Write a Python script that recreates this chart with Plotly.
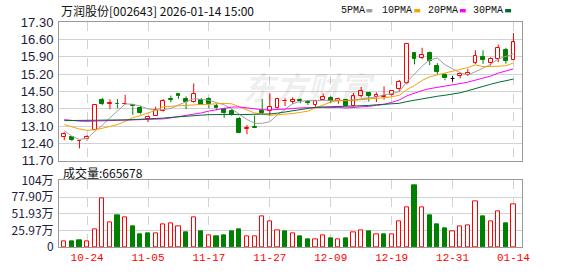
import plotly.graph_objects as go

# ---------------- data ----------------
dates = ["10-21","10-22","10-23","10-24","10-27","10-28","10-29","10-30","10-31",
         "11-03","11-04","11-05","11-06","11-07","11-10","11-11","11-12","11-13","11-14",
         "11-17","11-18","11-19","11-20","11-21","11-24","11-25","11-26","11-27","11-28",
         "12-01","12-02","12-03","12-04","12-05","12-08","12-09","12-10","12-11","12-12",
         "12-15","12-16","12-17","12-18","12-19","12-22","12-23","12-24","12-25","12-26",
         "12-29","12-30","12-31","01-05","01-06","01-07","01-08","01-09","01-12","01-13","01-14"]

open_ = [12.67,12.64,12.49,12.56,12.95,14.14,13.99,14.01,13.98,13.97,
         13.82,13.39,13.52,13.69,14.18,14.39,14.20,14.06,14.17,14.19,
         13.92,13.78,13.72,13.38,12.98,13.07,13.72,13.72,13.82,14.10,
         14.08,14.14,14.06,13.97,14.16,14.22,14.13,14.17,13.90,14.33,
         14.43,14.26,14.29,14.34,14.59,14.84,16.03,15.86,16.03,15.53,
         15.18,15.02,15.13,15.18,15.66,15.90,15.63,15.81,16.17,15.78]
high = [12.85,12.67,12.52,12.73,13.96,14.24,14.18,14.19,14.36,13.99,
        13.92,13.52,13.88,14.19,14.33,14.43,14.30,14.82,14.23,14.26,
        14.00,13.84,13.78,13.46,13.14,13.52,14.19,14.42,14.24,14.22,
        14.26,14.21,14.15,14.16,14.42,14.31,14.24,14.20,14.44,14.68,
        14.44,14.46,14.70,14.56,14.96,16.45,16.04,16.26,16.11,15.64,
        15.23,15.13,15.22,15.41,16.16,16.16,15.88,16.39,16.26,16.85]
low = [12.53,12.49,12.20,12.51,12.93,13.95,13.78,13.81,13.97,13.55,
       13.57,13.26,13.50,13.66,14.06,14.20,13.78,14.04,13.96,13.82,
       13.74,13.43,13.52,12.80,12.77,13.02,13.59,13.52,13.80,13.91,
       13.99,14.02,13.95,13.88,14.12,14.02,14.00,13.86,13.88,14.26,
       14.09,14.07,14.17,14.30,14.48,14.78,15.59,15.80,15.56,15.19,
       14.95,14.89,15.02,15.12,15.60,15.61,15.54,15.68,15.62,15.76]
close = [12.77,12.53,12.51,12.67,13.95,14.01,14.02,13.98,14.00,13.90,
         13.62,13.46,13.74,14.10,14.15,14.31,14.06,14.40,13.97,13.98,
         13.81,13.63,13.56,12.81,13.01,13.04,13.64,13.87,14.20,14.13,
         14.16,14.11,14.04,14.13,14.27,14.12,14.20,13.89,14.30,14.50,
         14.33,14.35,14.33,14.52,14.88,16.41,15.82,15.98,15.74,15.30,
         15.02,15.02,15.19,15.25,15.94,15.77,15.82,16.27,15.74,16.48]

# volume in 万 (lots)
volume = [9.5,8.5,10.0,8.5,27.6,76.3,38.1,49.2,45.7,32.6,
          19.1,20.6,20.6,35.1,36.6,32.6,22.1,45.7,23.6,17.6,
          16.1,17.6,23.6,28.1,16.1,16.1,47.2,39.6,26.1,24.6,
          20.6,16.1,11.5,12.5,18.6,14.1,12.5,14.1,23.1,26.1,
          25.1,19.1,19.1,19.1,39.6,62.2,95.8,62.2,49.2,35.6,
          29.6,24.6,32.1,33.6,71.3,47.7,39.6,56.2,37.1,66.5678]
vol_up = [1,0,0,1,1,1,1,0,1,0, 0,0,1,1,1,1,0,1,0,1,
          0,0,0,0,1,1,1,1,1,0, 1,0,0,1,1,0,1,0,1,1,
          0,1,0,1,1,1,0,1,0,0, 0,1,1,1,1,0,1,1,0,1]

# moving-average values before enough in-window closes exist
ma5_head = [12.92,12.69,12.56,12.60]
ma10_head = [13.16,13.06,12.98,12.93,12.95,13.01,13.08,13.16,13.29]
ma20_head = [13.36,13.32,13.30,13.29,13.29,13.30,13.32,13.33,13.34,13.36,
             13.36,13.35,13.36,13.39,13.43,13.48,13.52,13.57,13.63]
ma30_head = [13.32,13.32,13.32,13.32,13.32,13.33,13.33,13.34,13.35,13.36,
             13.37,13.38,13.40,13.42,13.45,13.48,13.50,13.52,13.54,13.56,
             13.57,13.57,13.57,13.56,13.56,13.56,13.57,13.59,13.62]

price_ticks = [11.70,12.40,13.10,13.80,14.50,15.20,15.90,16.60,17.30]
vol_ticks = [0,25.97,51.93,77.90,103.87]
vol_tick_text = ["0","25.97万","51.93万","77.90万","104万"]
tick_dates = ["10-24","11-05","11-17","11-27","12-09","12-19","12-31","01-14"]

title_text = "万润股份[002643] 2026-01-14 15:00"
ma_names = ["5PMA","10PMA","20PMA","30PMA"]

# ---------------- styles ----------------
RED = "#ff0000"
GREEN = "#008000"
MA_COLORS = ["#a0a0a0", "#f5a300", "#ff00ff", "#006b30"]
GRID = "#d2d2d2"
FRAME = "#9a9a9a"
LABEL = "#1c1c3c"

L, R, T, B = 55, 56, 21, 21
W, H = 578, 276
PW, PH = W - L - R, H - T - B


def px_x(px):
    return (px - L) / PW


def px_y(py):
    return (H - B - py) / PH


def rolling(vals, n, head):
    out = list(head)
    for i in range(len(head), len(vals)):
        out.append(sum(vals[i - n + 1:i + 1]) / n)
    return out


mas = [rolling(close, 5, ma5_head), rolling(close, 10, ma10_head),
       rolling(close, 20, ma20_head), rolling(close, 30, ma30_head)]

idx = list(range(len(dates)))
up = [i for i in idx if close[i] > open_[i]]
dn = [i for i in idx if close[i] < open_[i]]
flat = [i for i in idx if close[i] == open_[i]]


def wick_xy(ids):
    xs, ys = [], []
    for i in ids:
        top = max(open_[i], close[i])
        bot = min(open_[i], close[i])
        xs += [i, i, None, i, i, None]
        ys += [high[i], top, None, bot, low[i], None]
    return xs, ys


fig = go.Figure()
BW = 0.5

for ids, col, fill in [(up, RED, "white"), (dn, GREEN, GREEN), (flat, "#000000", "#000000")]:
    if not ids:
        continue
    wx, wy = wick_xy(ids)
    fig.add_trace(go.Scatter(x=wx, y=wy, mode="lines", line=dict(color=col, width=1),
                             xaxis="x", yaxis="y", hoverinfo="skip"))
    if col == "#000000":
        dx, dy = [], []
        for i in ids:
            dx += [i - BW / 2, i + BW / 2, None]
            dy += [close[i], close[i], None]
        fig.add_trace(go.Scatter(x=dx, y=dy, mode="lines", line=dict(color=col, width=1),
                                 xaxis="x", yaxis="y", hoverinfo="skip"))
    else:
        fig.add_trace(go.Bar(x=ids, y=[abs(close[i] - open_[i]) for i in ids],
                             base=[min(open_[i], close[i]) for i in ids], width=BW,
                             marker=dict(color=fill, line=dict(color=col, width=1)),
                             xaxis="x", yaxis="y"))

for ma, col in zip(mas, MA_COLORS):
    fig.add_trace(go.Scatter(x=idx, y=ma, mode="lines", line=dict(color=col, width=1),
                             xaxis="x", yaxis="y", hoverinfo="skip"))

vu = [i for i in idx if vol_up[i]]
vd = [i for i in idx if not vol_up[i]]
fig.add_trace(go.Bar(x=vu, y=[volume[i] for i in vu], width=0.55,
                     marker=dict(color="white", line=dict(color=RED, width=1)),
                     xaxis="x2", yaxis="y2"))
fig.add_trace(go.Bar(x=vd, y=[volume[i] for i in vd], width=0.55,
                     marker=dict(color=GREEN, line=dict(color=GREEN, width=1)),
                     xaxis="x2", yaxis="y2"))

tick_pos = [dates.index(d) for d in tick_dates]
xr = [-0.69, 60.12]

common_x = dict(range=xr, showgrid=True, gridcolor=GRID, griddash="dash", gridwidth=1,
                tickvals=tick_pos, zeroline=False, showline=True, mirror=True,
                linecolor=FRAME, linewidth=1, ticks="", fixedrange=True)

fig.update_layout(
    width=W, height=H,
    margin=dict(l=L, r=R, t=T, b=B, pad=0),
    paper_bgcolor="white", plot_bgcolor="white",
    showlegend=False, barmode="overlay", bargap=0,
    font=dict(family="Liberation Sans", size=12, color=LABEL),
    xaxis=dict(common_x, anchor="y", showticklabels=False),
    xaxis2=dict(common_x, anchor="y2", matches="x", showticklabels=True,
                ticktext=tick_dates,
                tickfont=dict(family="Liberation Mono", size=11, color=RED)),
    yaxis=dict(domain=[px_y(165.3), 1.0], range=[price_ticks[0], price_ticks[-1]],
               tickvals=price_ticks, ticktext=["%.2f" % v for v in price_ticks],
               tickfont=dict(family="Liberation Sans", size=13, color=LABEL),
               showgrid=True, gridcolor=GRID, gridwidth=1, zeroline=False,
               showline=True, mirror=True, linecolor=FRAME, linewidth=1, ticks="",
               ticklabelstandoff=2),
    yaxis2=dict(domain=[0, px_y(185.7)], range=[vol_ticks[0], vol_ticks[-1]],
                tickvals=vol_ticks, ticktext=vol_tick_text,
                tickfont=dict(family="Noto Sans CJK SC", size=12, color=LABEL),
                showgrid=True, gridcolor=GRID, gridwidth=1, zeroline=False,
                showline=True, mirror=True, linecolor=FRAME, linewidth=1, ticks="",
                ticklabelstandoff=2),
)

ann = []
ann.append(dict(text=title_text, x=px_x(55), y=px_y(9), xref="paper", yref="paper",
                xanchor="left", yanchor="middle", showarrow=False,
                font=dict(family="Noto Sans CJK SC", size=12, color="#111111")))
ann.append(dict(text="成交量:%d" % round(volume[-1] * 10000), x=px_x(57), y=px_y(177),
                xref="paper", yref="paper", xanchor="left", yanchor="middle", showarrow=False,
                font=dict(family="Noto Sans CJK SC", size=12, color="#111111")))
ann.append(dict(text="<b><i>东方财富</i></b>", x=px_x(308), y=px_y(88), xref="paper", yref="paper",
                xanchor="center", yanchor="middle", showarrow=False,
                font=dict(family="Noto Sans CJK SC", size=32, color="rgba(0,0,0,0.08)")))

legend_text_x = [338, 380, 425.7, 471.7]
legend_sq_x = [365, 413.3, 459.3, 505]
shapes = []
for name, tx, sx, col in zip(ma_names, legend_text_x, legend_sq_x, MA_COLORS):
    ann.append(dict(text=name, x=px_x(tx - 1), y=px_y(9), xref="paper", yref="paper",
                    xanchor="left", yanchor="middle", showarrow=False,
                    font=dict(family="Liberation Mono", size=10, color="#111111")))
    shapes.append(dict(type="rect", xref="paper", yref="paper",
                       x0=px_x(sx), x1=px_x(sx + 6), y0=px_y(11), y1=px_y(7.5),
                       fillcolor=col, line=dict(width=0)))

fig.update_layout(annotations=ann, shapes=shapes)
fig.write_html("out.html")
